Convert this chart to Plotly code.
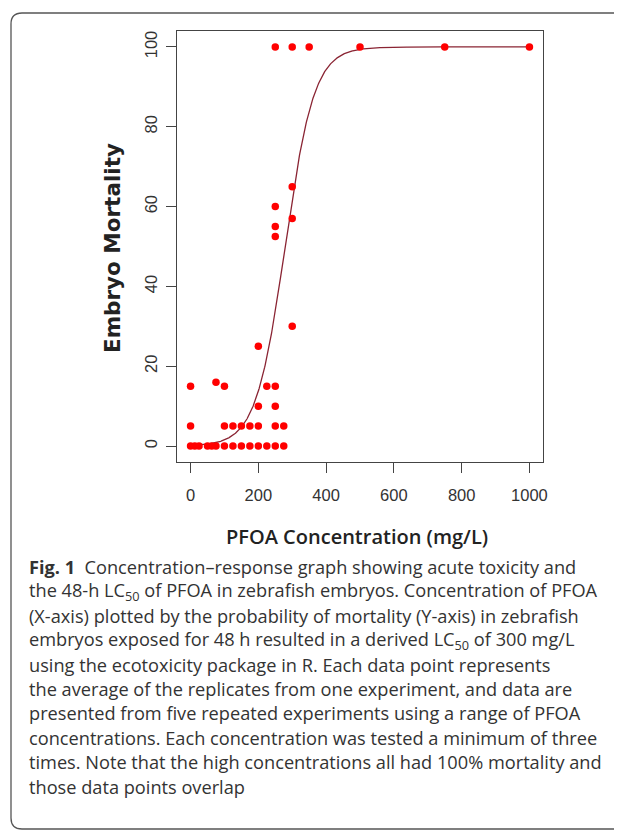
import numpy as np
import plotly.graph_objects as go

# ---- data ----
conc = [0, 12.5, 25, 50, 62.5, 75, 100, 125, 150, 175, 200, 225, 250, 275,
        0, 100, 125, 150, 175, 200, 250, 275,
        200, 250,
        0, 100, 225, 250,
        75, 200,
        250, 250, 250,
        300, 300, 300,
        250, 300, 350, 500, 750, 1000]
mortality = [0, 0, 0, 0, 0, 0, 0, 0, 0, 0, 0, 0, 0, 0,
             5, 5, 5, 5, 5, 5, 5, 5,
             10, 10,
             15, 15, 15, 15,
             16, 25,
             60, 55, 52.5,
             65, 57, 30,
             100, 100, 100, 100, 100, 100]

# fitted logistic dose-response model
fit_mid = 279.0
fit_scale = 43.0

x_ticks = [0, 200, 400, 600, 800, 1000]
y_ticks = [0, 20, 40, 60, 80, 100]

caption_lines = [
    "<b>Fig. 1</b>  Concentration–response graph showing acute toxicity and",
    "the 48-h LC<sub>50</sub> of PFOA in zebrafish embryos. Concentration of PFOA",
    "(X-axis) plotted by the probability of mortality (Y-axis) in zebrafish",
    "embryos exposed for 48 h resulted in a derived LC<sub>50</sub> of 300 mg/L",
    "using the ecotoxicity package in R. Each data point represents",
    "the average of the replicates from one experiment, and data are",
    "presented from five repeated experiments using a range of PFOA",
    "concentrations. Each concentration was tested a minimum of three",
    "times. Note that the high concentrations all had 100% mortality and",
    "those data points overlap",
]

OFF = 8  # page body margin
W, H = 622, 831
# plot area in page pixels
PL, PR, PT, PB = 177, 543, 31, 462
fl, fr, ft, fb = PL - OFF, PR - OFF, PT - OFF, PB - OFF


def px(xp):
    return (xp - OFF - fl) / (fr - fl)


def py(yp):
    return (fb - (yp - OFF)) / (fb - ft)


xc = np.linspace(0, 1000, 801)
yc = 100.0 / (1.0 + np.exp(-(xc - fit_mid) / fit_scale))

fig = go.Figure()
fig.add_trace(go.Scatter(x=xc, y=yc, mode="lines",
                         line=dict(color="#8a2433", width=1.3),
                         hoverinfo="skip", showlegend=False))
fig.add_trace(go.Scatter(x=conc, y=mortality, mode="markers",
                         marker=dict(color="#ff0000", size=7.5),
                         showlegend=False))

axis_common = dict(showline=True, linecolor="#444444", linewidth=1.2, mirror=True,
                   showgrid=False, zeroline=False, ticks="outside", ticklen=10,
                   tickcolor="#444444", tickwidth=1.2,
                   tickfont=dict(family="Liberation Sans, Arial", size=16.5, color="#333333"))

fig.update_xaxes(range=[-40, 1040], tickvals=x_ticks, ticktext=[str(v) for v in x_ticks],
                 ticklabelstandoff=8, **axis_common)
fig.update_yaxes(range=[-4, 104], tickvals=y_ticks, ticktext=[str(v) for v in y_ticks],
                 tickangle=-90, ticklabelstandoff=2, **axis_common)

annotations = []
annotations.append(dict(text="Embryo Mortality", xref="paper", yref="paper",
                        x=px(112), y=py(248), xanchor="center", yanchor="middle",
                        textangle=-90, showarrow=False,
                        font=dict(family="DejaVu Sans", size=21.5, color="#222222", weight="bold")))
annotations.append(dict(text="PFOA Concentration (mg/L)", xref="paper", yref="paper",
                        x=px(357), y=py(536), xanchor="center", yanchor="middle",
                        showarrow=False,
                        font=dict(family="Open Sans", size=20, color="#222222", weight=600)))

line_y0 = 567
line_dy = 24.4
for i, t in enumerate(caption_lines):
    annotations.append(dict(text=t, xref="paper", yref="paper",
                            x=px(27), y=py(line_y0 + i * line_dy),
                            xanchor="left", yanchor="middle", showarrow=False,
                            font=dict(family="Open Sans", size=18.2, color="#333333")))

# rounded border box (right side runs off the page)
L, T, B, R, r = 11, 13, 829, 650, 11
path = (f"M {px(R)} {py(T)} L {px(L + r)} {py(T)} "
        f"Q {px(L)} {py(T)} {px(L)} {py(T + r)} "
        f"L {px(L)} {py(B - r)} "
        f"Q {px(L)} {py(B)} {px(L + r)} {py(B)} "
        f"L {px(R)} {py(B)}")
shapes = [dict(type="path", xref="paper", yref="paper", path=path,
               line=dict(color="#555555", width=1.3))]

fig.update_layout(width=W, height=H, autosize=False,
                  margin=dict(l=fl, r=W - fr, t=ft, b=H - fb, pad=0),
                  paper_bgcolor="white", plot_bgcolor="white",
                  annotations=annotations, shapes=shapes)

fig.write_html("out.html")
